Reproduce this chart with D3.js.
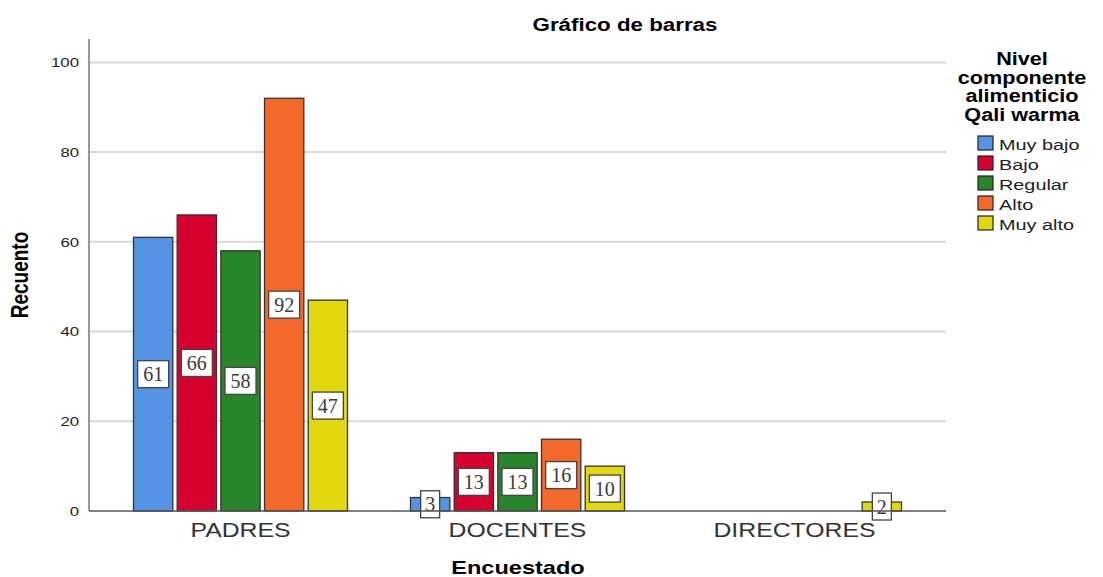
<!DOCTYPE html>
<html>
<head>
<meta charset="utf-8">
<script src="https://cdn.jsdelivr.net/npm/d3@7/dist/d3.min.js"></script>
<style>
  body { margin: 0; background: #fff; }
</style>
</head>
<body>
<svg id="chart" width="1103" height="577" font-family="'Liberation Sans', Arial, sans-serif"></svg>
<script>
// --- data
const categories = ['PADRES', 'DOCENTES', 'DIRECTORES'];
const levels = ['Muy bajo', 'Bajo', 'Regular', 'Alto', 'Muy alto'];
const colors = ['#5594e4', '#d6002f', '#28852a', '#f2692b', '#e2d80e'];
const muyBajo = [61, 3, 0];
const bajo = [66, 13, 0];
const regular = [58, 13, 0];
const alto = [92, 16, 0];
const muyAlto = [47, 10, 2];
const yTicks = [0, 20, 40, 60, 80, 100];
const legendTitle = ['Nivel', 'componente', 'alimenticio', 'Qali warma'];

const series = [muyBajo, bajo, regular, alto, muyAlto];

// the original picture is wider than tall, text looks stretched sideways
const SX = 1.24;
function stretch(sel, k) {
  sel.each(function() {
    const w = this.getComputedTextLength();
    d3.select(this).attr('textLength', w * k).attr('lengthAdjust', 'spacingAndGlyphs');
  });
}

const svg = d3.select('#chart');

// --- scales
const x0 = d3.scaleBand().domain(categories).range([102, 933]);
const x1 = d3.scaleBand().domain(levels).range([0, 214]).paddingInner(0.1);
const y = d3.scaleLinear().domain([0, 100]).range([511, 62.4]);

// gridlines
svg.append('g').selectAll('line')
  .data(yTicks.filter(d => d > 0))
  .enter().append('line')
  .attr('x1', 89).attr('x2', 946)
  .attr('y1', d => y(d)).attr('y2', d => y(d))
  .attr('stroke', '#d9d9d9').attr('stroke-width', 2);

// y axis
const yAxis = svg.append('g').attr('transform', 'translate(89,0)')
  .call(d3.axisLeft(y).tickValues(yTicks).tickSize(0).tickPadding(10));
yAxis.select('.domain').remove();
yAxis.selectAll('text').attr('font-size', 13.5).attr('fill', '#222')
  .attr('font-family', null);
stretch(yAxis.selectAll('text'), SX);
svg.append('line').attr('x1', 89).attr('x2', 89)
  .attr('y1', 39).attr('y2', 511).attr('stroke', '#999').attr('stroke-width', 2);

// bars
const groups = svg.append('g').selectAll('g')
  .data(categories)
  .enter().append('g')
  .attr('transform', c => `translate(${x0(c) + x0.bandwidth() / 2 - 107},0)`);

const cells = groups.selectAll('g.cell')
  .data((c, ci) => levels.map((l, li) => ({ l: l, li: li, v: series[li][ci] })).filter(d => d.v > 0))
  .enter().append('g').attr('class', 'cell');

cells.append('rect')
  .attr('x', d => x1(d.l))
  .attr('width', x1.bandwidth())
  .attr('y', d => y(d.v))
  .attr('height', d => y(0) - y(d.v))
  .attr('fill', d => colors[d.li])
  .attr('stroke', '#333').attr('stroke-width', 1.3);

// x axis
svg.append('line').attr('x1', 89).attr('x2', 946)
  .attr('y1', y(0)).attr('y2', y(0)).attr('stroke', '#555').attr('stroke-width', 1.5);

// value boxes
cells.each(function(d) {
  const g = d3.select(this);
  const cx = x1(d.l) + x1.bandwidth() / 2;
  const cy = (y(d.v) + y(0)) / 2;
  const label = String(d.v);
  const w = label.length > 1 ? 31 : 19;
  g.append('rect')
    .attr('x', cx - w / 2).attr('y', cy - 13.5)
    .attr('width', w).attr('height', 27)
    .attr('fill', '#fff').attr('stroke', '#444').attr('stroke-width', 1.3);
  g.append('text')
    .attr('x', cx).attr('y', cy + 7)
    .attr('text-anchor', 'middle')
    .attr('font-family', "'Liberation Serif', 'DejaVu Serif', serif")
    .attr('font-size', 20).attr('fill', '#3a3a3a')
    .text(label);
});

const xAxis = svg.append('g').attr('transform', `translate(0,${y(0)})`)
  .call(d3.axisBottom(x0).tickSize(0).tickPadding(0));
xAxis.select('.domain').remove();
xAxis.selectAll('text').attr('font-size', 20).attr('fill', '#333')
  .attr('font-family', null).attr('dy', null).attr('y', 26);
stretch(xAxis.selectAll('text'), SX);

// titles
const title = svg.append('text').attr('x', 625).attr('y', 31)
  .attr('text-anchor', 'middle').attr('font-weight', 'bold').attr('font-size', 18)
  .text('Gráfico de barras');
stretch(title, SX);
const xTitle = svg.append('text').attr('x', 518).attr('y', 574)
  .attr('text-anchor', 'middle').attr('font-weight', 'bold').attr('font-size', 19)
  .text('Encuestado');
stretch(xTitle, SX);
const yTitle = svg.append('text')
  .attr('transform', 'translate(28,275) rotate(-90)')
  .attr('text-anchor', 'middle').attr('font-weight', 'bold').attr('font-size', 19 * SX)
  .text('Recuento');
stretch(yTitle, 1 / SX);

// legend
const lg = svg.append('g');
const lt = lg.selectAll('text.t').data(legendTitle).enter().append('text')
  .attr('class', 't')
  .attr('x', 1022).attr('y', (d, i) => 65 + i * 18.5)
  .attr('text-anchor', 'middle').attr('font-weight', 'bold').attr('font-size', 18)
  .text(d => d);
stretch(lt, 1.2);
const items = lg.selectAll('g.item').data(levels).enter().append('g')
  .attr('class', 'item')
  .attr('transform', (d, i) => `translate(978,${136 + i * 20})`);
items.append('rect').attr('width', 15).attr('height', 14)
  .attr('fill', (d, i) => colors[i]).attr('stroke', '#222').attr('stroke-width', 1.2);
const it = items.append('text').attr('x', 21).attr('y', 13.5)
  .attr('font-size', 15.5).attr('fill', '#222').text(d => d);
stretch(it, 1.28);
</script>
</body>
</html>
